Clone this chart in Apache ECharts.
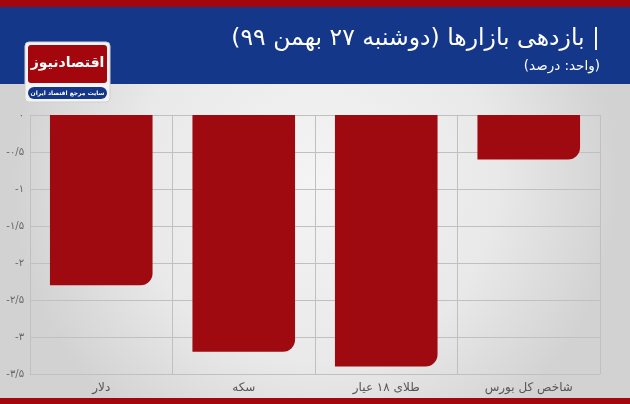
<!DOCTYPE html>
<html><head><meta charset="utf-8">
<script src="https://cdn.jsdelivr.net/npm/echarts@6/dist/echarts.min.js"></script>
<style>html,body{margin:0;padding:0;}#c{width:630px;height:404px;}</style>
</head><body><div id="c"></div>
<script>
const categories = ['دلار', 'سکه', 'طلای ۱۸ عیار', 'شاخص کل بورس'];
const values = [-2.3, -3.2, -3.4, -0.6];
const titleText = '| بازدهی بازارها (دوشنبه ۲۷ بهمن ۹۹)';
const subtitleText = '(واحد: درصد)';
const logoText = 'اقتصادنیوز';
const logoSub = 'سایت مرجع اقتصاد ایران';

const RLE = '\u202B', PDF = '\u202C';
const rtl = s => RLE + s + PDF;
const fa = n => {
  const d = '۰۱۲۳۴۵۶۷۸۹';
  let s = String(Math.abs(n)).replace('.', '/').replace(/[0-9]/g, c => d[+c]);
  return (n < 0 ? '-' : '') + s;
};
const FONT = '"DejaVu Sans", "Noto Sans", sans-serif';

const chart = echarts.init(document.getElementById('c'), null, {renderer: 'canvas'});
chart.setOption({
  animation: false,
  backgroundColor: {
    type: 'radial', x: 0.5, y: 0.45, r: 0.75,
    colorStops: [{offset: 0, color: '#f4f4f4'}, {offset: 0.6, color: '#e9e9e9'}, {offset: 1, color: '#d2d2d2'}]
  },
  graphic: [
    {type: 'rect', z: -1, shape: {x: 0, y: 0, width: 630, height: 7}, style: {fill: '#a3070d'}},
    {type: 'rect', z: -1, shape: {x: 0, y: 7, width: 630, height: 77}, style: {fill: '#15378a'}},
    {type: 'rect', z: -1, shape: {x: 0, y: 398, width: 630, height: 6}, style: {fill: '#a3070d'}},
    {type: 'text', style: {text: rtl(titleText), x: 600, y: 39, align: 'right', verticalAlign: 'middle', fill: '#ffffff', font: '23.5px ' + FONT}},
    {type: 'text', style: {text: rtl(subtitleText), x: 600, y: 66, align: 'right', verticalAlign: 'middle', fill: '#ffffff', font: '13.5px ' + FONT}},
    {type: 'rect', shape: {x: 25, y: 42, width: 85, height: 60, r: 4}, style: {fill: '#f4f4f4', stroke: '#d0d0d0'}},
    {type: 'rect', shape: {x: 28, y: 45, width: 79, height: 38, r: 3}, style: {fill: '#a3070d'}},
    {type: 'text', style: {text: rtl(logoText), x: 67.5, y: 63, align: 'center', verticalAlign: 'middle', fill: '#ffffff', font: 'bold 14px ' + FONT}},
    {type: 'rect', shape: {x: 28, y: 87, width: 79, height: 12, r: 6}, style: {fill: '#15378a'}},
    {type: 'text', style: {text: rtl(logoSub), x: 67.5, y: 93.5, align: 'center', verticalAlign: 'middle', fill: '#ffffff', font: 'bold 6px ' + FONT}}
  ],
  grid: {left: 30, right: 30, top: 115, bottom: 30, containLabel: false},
  xAxis: {
    type: 'category', data: categories, position: 'bottom',
    axisLine: {onZero: false, show: true, lineStyle: {color: '#c0c0c0'}},
    axisTick: {show: false},
    splitLine: {show: true, lineStyle: {color: '#c0c0c0', width: 1}},
    axisLabel: {color: '#555', fontSize: 12, margin: 8, fontFamily: FONT, formatter: v => rtl(v)}
  },
  yAxis: {
    type: 'value', min: -3.5, max: 0, interval: 0.5,
    axisLine: {show: true, lineStyle: {color: '#c0c0c0'}},
    axisTick: {show: false},
    splitLine: {show: true, lineStyle: {color: '#c0c0c0', width: 1}},
    axisLabel: {color: '#666', fontSize: 10, margin: 6, fontFamily: FONT, formatter: v => fa(v)}
  },
  series: [{
    type: 'bar', data: values, barWidth: '72%',
    itemStyle: {color: '#9e0a0f', borderRadius: [0, 0, 12, 0]}
  }]
});
</script></body></html>
